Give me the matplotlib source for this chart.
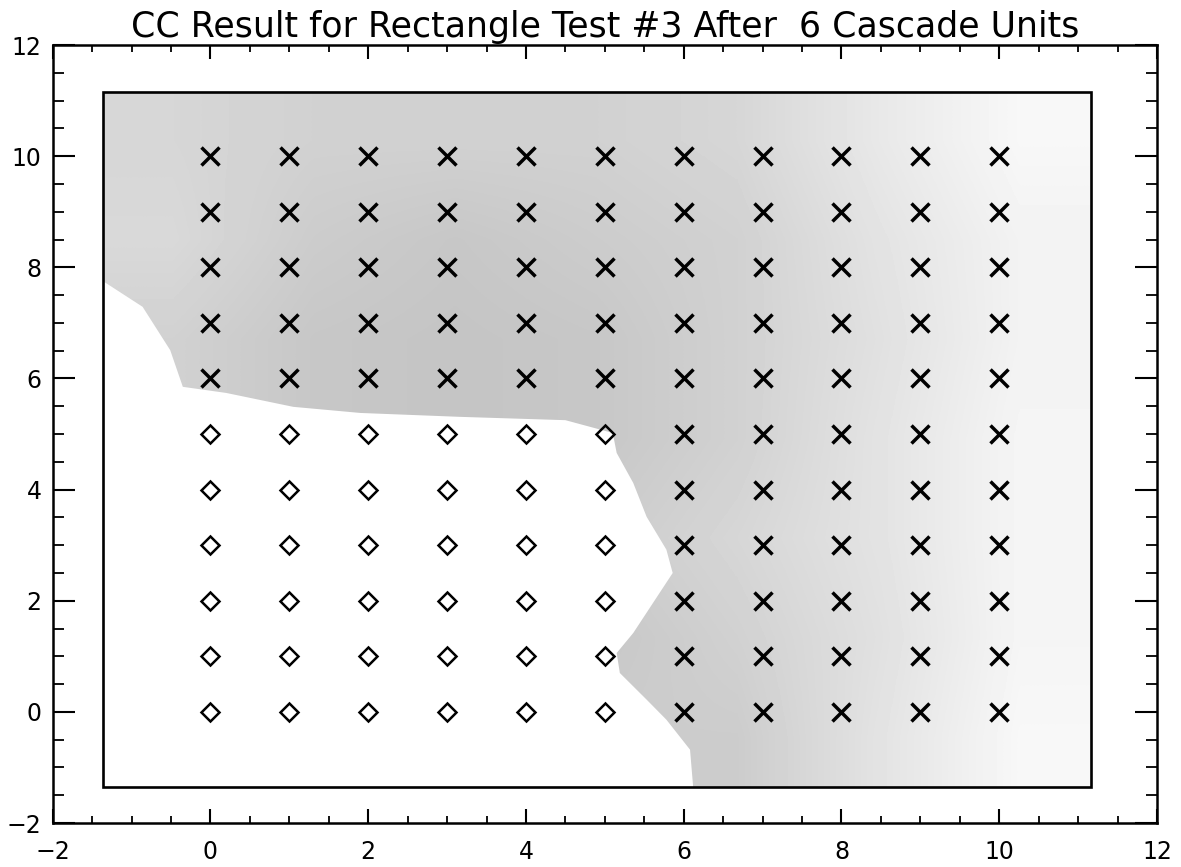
import numpy as np
import matplotlib
matplotlib.use("Agg")
import matplotlib.pyplot as plt
from matplotlib.patches import Polygon, Rectangle

# ---- data ----
grid_x = list(range(0, 11))
grid_y = list(range(0, 11))
# class 0 (diamonds): x in 0..5 and y in 0..5 ; class 1 (crosses): the rest
diamond_x = [x for x in range(0, 6) for y in range(0, 6)]
diamond_y = [y for x in range(0, 6) for y in range(0, 6)]
cross_x = [x for x in grid_x for y in grid_y if not (x <= 5 and y <= 5)]
cross_y = [y for x in grid_x for y in grid_y if not (x <= 5 and y <= 5)]

# inner decision-region frame
frame_lo, frame_hi = -1.36, 11.16

# boundary of the shaded (class 1) region
shade_x = [-1.36, 11.16, 11.16, 6.12, 6.08, 5.78, 5.53, 5.19, 5.15, 5.36, 5.86,
           5.78, 5.53, 5.36, 5.15, 5.10, 4.50, 3.16, 1.90, 1.05, 0.20, -0.35,
           -0.51, -0.86, -1.36]
shade_y = [11.16, 11.16, -1.36, -1.36, -0.68, -0.14, 0.22, 0.70, 1.06, 1.42, 2.50,
           2.92, 3.51, 4.12, 4.66, 5.02, 5.25, 5.31, 5.38, 5.49, 5.74, 5.85,
           6.51, 7.29, 7.75]

# approximate grey level of the stipple (rows top->bottom, cols left->right)
shade_levels = [
    [0.84, 0.82, 0.82, 0.82, 0.84, 0.91, 0.97],
    [0.85, 0.80, 0.78, 0.80, 0.82, 0.89, 0.95],
    [0.82, 0.78, 0.77, 0.78, 0.82, 0.88, 0.95],
    [0.82, 0.78, 0.77, 0.78, 0.82, 0.89, 0.96],
    [0.80, 0.80, 0.80, 0.80, 0.84, 0.89, 0.96],
    [0.80, 0.80, 0.80, 0.78, 0.82, 0.88, 0.96],
    [0.80, 0.80, 0.80, 0.80, 0.80, 0.89, 0.97],
]

title = "CC Result for Rectangle Test #3 After  6 Cascade Units"
ticks = [-2, 0, 2, 4, 6, 8, 10, 12]

# ---- figure ----
fig = plt.figure(figsize=(11.81, 8.67), dpi=100)
ax = fig.add_axes([0.0446, 0.0507, 0.9351, 0.8973])
ax.set_xlim(-2, 12)
ax.set_ylim(-2, 12)

poly = Polygon(list(zip(shade_x, shade_y)), closed=True, facecolor="none",
               edgecolor="none")
ax.add_patch(poly)
im = ax.imshow(np.array(shade_levels), cmap="gray", vmin=0, vmax=1,
               extent=[frame_lo, frame_hi, frame_lo, frame_hi],
               interpolation="bilinear", aspect="auto", zorder=1)
im.set_clip_path(poly)

ax.add_patch(Rectangle((frame_lo, frame_lo), frame_hi - frame_lo,
                       frame_hi - frame_lo, fill=False, edgecolor="black",
                       linewidth=1.9, zorder=2))

ax.plot(cross_x, cross_y, linestyle="none", marker="x", markersize=13.5,
        markeredgewidth=2.5, color="black", zorder=3)
ax.plot(diamond_x, diamond_y, linestyle="none", marker="D", markersize=9.5,
        markeredgewidth=1.8, markerfacecolor="none", markeredgecolor="black",
        zorder=3)

ax.set_xticks(ticks)
ax.set_yticks(ticks)
ax.set_xticks(np.arange(-2, 12.01, 0.5), minor=True)
ax.set_yticks(np.arange(-2, 12.01, 0.5), minor=True)
ax.set_xticklabels([str(t).replace("-", "\u2212") for t in ticks])
ax.set_yticklabels([str(t).replace("-", "\u2212") for t in ticks])
ax.tick_params(axis="x", which="major", direction="in", length=10, width=1.5,
               top=True, bottom=True, labelsize=17, pad=12)
ax.tick_params(axis="x", which="minor", direction="in", length=5, width=1.3,
               top=True, bottom=True)
ax.tick_params(axis="y", which="major", direction="in", length=16, width=1.5,
               left=True, right=True, labelsize=17, pad=8)
ax.tick_params(axis="y", which="minor", direction="in", length=8, width=1.3,
               left=True, right=True)
for s in ax.spines.values():
    s.set_linewidth(1.8)

ax.set_title(title, fontsize=25, pad=6)

fig.savefig("out.png", dpi=100)
